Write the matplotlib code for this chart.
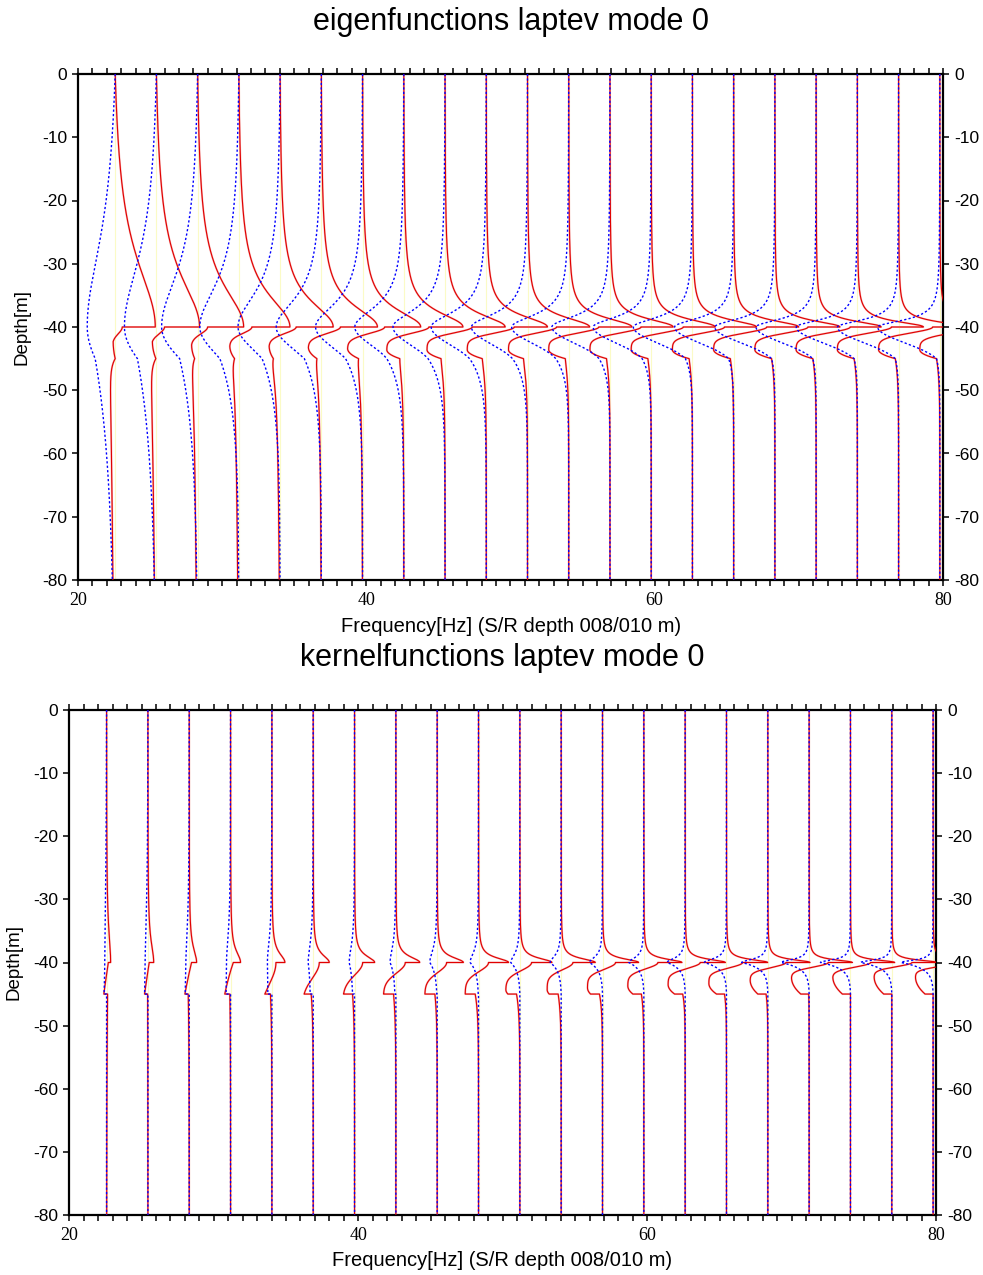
import numpy as np
import matplotlib
matplotlib.use("Agg")
import matplotlib.pyplot as plt
from matplotlib.ticker import MultipleLocator

plt.rcParams["axes.unicode_minus"] = False

# ---------------- data ----------------
freqs = [22.58, 25.44, 28.30, 31.16, 34.02, 36.88, 39.74, 42.60, 45.46, 48.32, 51.18,
         54.04, 56.90, 59.76, 62.62, 65.48, 68.34, 71.20, 74.06, 76.92, 79.78]
y_ticks = [0, -10, -20, -30, -40, -50, -60, -70, -80]
x_ticks = [20, 40, 60, 80]
water_depth = 40.0      # m, interface
layer_bottom = 45.0     # m, bottom of sediment layer
max_depth = 80.0

# --- eigenfunctions: red (solid) ---
eig_red_peak = [2.78, 2.99, 3.19, 3.54, 3.68, 3.89, 4.03, 4.10, 4.17, 4.24, 4.31,
                4.38, 4.38, 4.44, 4.44, 4.51, 4.51, 4.51, 4.58, 4.58, 4.58]
eig_red_width = [13.0, 10.0, 8.0, 6.3, 5.0, 4.1, 3.4, 2.9, 2.5, 2.2, 1.95,
                 1.78, 1.62, 1.5, 1.4, 1.3, 1.22, 1.15, 1.08, 1.02, 0.97]
eig_red_top = [0.49, 0.56, 0.69, 0.90, 1.11, 1.32, 1.53, 1.74, 1.88, 1.94, 2.01,
               2.08, 2.15, 2.22, 2.22, 2.29, 2.29, 2.36, 2.36, 2.36, 2.43]
eig_red_min = [-0.14, -0.28, -0.42, -0.63, -0.76, -0.90, -1.04, -1.18, -1.25, -1.32, -1.32,
               -1.39, -1.39, -1.39, -1.39, -1.39, -1.39, -1.39, -1.39, -1.39, -1.39]
eig_red_zmin = [2.3, 2.3, 2.8, 3.0, 3.0, 3.2, 3.4, 3.6, 3.6, 3.6, 3.6,
                3.6, 3.6, 3.6, 3.6, 3.6, 3.6, 3.6, 3.6, 3.6, 3.6]
eig_red_lam = [1.5, 1.5, 1.5, 1.4, 1.4, 1.4, 1.4, 1.37, 1.3, 1.3, 1.3,
               1.3, 1.3, 1.3, 1.3, 1.3, 1.3, 1.3, 1.3, 1.3, 1.3]
eig_red_pow = [2] * 21
eig_red_bot = [0.0, -0.04, -0.21, -0.30, -0.47, -0.31, -0.28, -0.28, -0.28, -0.28, -0.28,
               -0.24, -0.24, -0.23, -0.23, -0.23, -0.23, -0.23, -0.23, -0.23, -0.23]
eig_red_hdecay = [3.0] * 21
eig_red_tail = [-0.38, -0.39, -0.35, -0.35, -0.35, -0.24, -0.21, -0.14, -0.10, -0.08, -0.07,
                -0.06, -0.04, -0.03, -0.03, -0.02, -0.01, -0.01, 0.0, 0.0, 0.0]
eig_red_taildecay = [40, 35, 30, 25, 20, 15, 12, 8, 6, 5, 5, 4, 4, 4, 4, 3, 3, 3, 3, 3, 3]

# --- eigenfunctions: blue (dotted) ---
eig_blue_peak = [-1.94, -2.22, -2.50, -2.71, -2.92, -3.13, -3.26, -3.40, -3.61, -3.82, -3.89,
                 -3.96, -4.03, -4.03, -4.10, -4.10, -4.17, -4.17, -4.24, -4.24, -4.31]
eig_blue_width = [17.5, 13.5, 10.8, 8.5, 6.8, 5.5, 4.6, 3.9, 3.4, 3.0, 2.6,
                  2.4, 2.2, 2.0, 1.9, 1.75, 1.65, 1.55, 1.46, 1.38, 1.31]
eig_blue_bot = [-1.39, -1.32, -1.25, -1.32, -1.25, -1.18, -1.18, -1.18, -1.18, -1.16, -1.04,
                -0.90, -0.76, -0.63, -0.49, -0.35, -0.23, -0.23, -0.23, -0.23, -0.23]
eig_blue_lam = [10, 10, 8, 6, 5, 5, 4.5, 4, 4, 4, 3.8, 3.6, 3.5, 3.5, 3.5, 3.5, 3.5, 3.5, 3.5, 3.5, 3.5]
eig_blue_hdecay = [18, 16, 12, 8, 7, 6, 5, 4.5, 4, 3.7, 3.3, 3, 2.8, 2.6, 2.4, 2.2, 2, 2, 2, 2, 2]

# --- kernel functions: red (solid) ---
ker_red_peak = [0.28, 0.40, 0.51, 0.69, 0.90, 1.11, 1.39, 1.65, 1.81, 2.08, 2.22,
                2.36, 2.50, 2.64, 2.78, 2.85, 2.92, 2.99, 3.06, 3.13, 3.19]
ker_red_width = [6.0, 3.9, 2.8, 2.2, 1.8, 1.5, 1.3, 1.15, 1.03, 0.93, 0.85,
                 0.78, 0.72, 0.67, 0.63, 0.59, 0.56, 0.53, 0.50, 0.48, 0.46]
ker_red_top = [0.12, 0.09, 0.16, 0.19, 0.28, 0.42, 0.56, 0.65, 0.65, 0.69, 0.81,
               0.81, 0.90, 0.97, 1.04, 1.11, 1.25, 1.32, 1.39, 1.39, 1.39]
ker_red_min = [-0.19, -0.23, -0.30, -0.40, -0.49, -0.63, -0.76, -0.85, -0.85, -0.92, -0.97,
               -0.97, -1.04, -1.11, -1.18, -1.22, -1.22, -1.22, -1.22, -1.22, -1.22]
ker_red_zmin = [5, 5, 5, 5, 5, 5, 5, 5, 5, 4.9, 4.3, 4.3, 4.0, 3.7, 3.5, 3.3, 2.8, 2.4, 2.3, 2.3, 2.3]
ker_red_lam = [50, 50, 20, 10, 5, 3.5, 2.8, 2.35, 2.2, 2.0, 1.8,
               1.6, 1.5, 1.4, 1.3, 1.2, 1.1, 1.0, 1.0, 0.9, 0.9]
ker_red_pow = [1, 1, 1, 1, 2, 2, 2, 2, 2, 2, 2, 2, 2, 2, 2, 2, 2, 2, 2, 2, 2]
ker_red_sed = [-0.19, -0.23, -0.30, -0.40, -0.49, -0.63, -0.76, -0.85, -0.85, -0.92, -0.83,
               -0.83, -0.83, -0.76, -0.73, -0.69, -0.69, -0.58, -0.56, -0.56, -0.56]
ker_red_bot = [0.07, -0.02, -0.07, -0.05, -0.10, -0.14, -0.14, -0.16, -0.16, -0.23, -0.23,
               -0.21, -0.21, -0.17, -0.17, -0.14, -0.12, -0.03, 0.0, 0.0, 0.0]
ker_red_hdecay = [15, 10, 8, 6, 5, 4, 4, 4, 3.5, 3, 3, 3, 2.5, 2.5, 2, 2, 2, 2, 2, 2, 2]

# --- kernel functions: blue (dotted) ---
ker_blue_peak = [-0.12, -0.19, -0.23, -0.28, -0.31, -0.35, -0.37, -0.40, -0.51, -0.58, -0.63,
                 -0.76, -0.90, -1.04, -1.25, -1.53, -1.81, -1.94, -2.08, -2.15, -2.22]
ker_blue_width = [15, 10, 7, 5.5, 4.5, 3.8, 3.3, 3.0, 2.5, 2.0, 1.6,
                  1.3, 1.1, 0.95, 0.85, 0.75, 0.65, 0.6, 0.55, 0.5, 0.48]
ker_blue_sed = [-0.17, -0.23, -0.28, -0.31, -0.28, -0.21, -0.14, -0.07, -0.03, -0.02, 0.0,
                0.0, 0.0, 0.0, 0.0, 0.0, 0.0, 0.0, 0.0, 0.0, 0.0]
ker_blue_lam = [50, 50, 30, 10, 5, 3, 2.5, 2, 1.8, 1.6, 1.5, 1.4, 1.3, 1.2, 1.1, 1.05, 1.0, 1.0, 1.0, 1.0, 1.0]


# ---------------- curve construction ----------------
z_up = np.linspace(0.0, water_depth, 500)
z_sed = np.linspace(water_depth, layer_bottom, 250)
z_half = np.linspace(layer_bottom, max_depth, 400)
Z = np.concatenate([z_up, z_sed, z_half])


def profile(P, a, S0, Smin, zm, lam, p, S5, H, Lh, T=0.0, Lt=1.0):
    d = water_depth - z_up
    L = 1.0 / (1.0 + (d / a) ** 2)
    L0 = 1.0 / (1.0 + (water_depth / a) ** 2)
    up = P * (L - L0) / (1.0 - L0)

    s = z_sed - water_depth
    E = lambda v: np.exp(-(v / lam) ** p)
    G = (E(s) - E(zm)) / (1.0 - E(zm))
    sed = Smin + (S0 - Smin) * G
    if zm < layer_bottom - water_depth:
        right = s > zm
        span = (layer_bottom - water_depth) - zm
        sed[right] = Smin + (S5 - Smin) * ((s[right] - zm) / span) ** 2

    sp = z_half - layer_bottom
    half = H * np.exp(-sp / Lh) + T * (1 - np.exp(-sp / 1.5)) * np.exp(-sp / Lt)
    return np.concatenate([up, sed, half])


def style_axes(ax):
    ax.set_xlim(20, 80)
    ax.set_ylim(-80, 0)
    ax.set_xticks(x_ticks)
    ax.xaxis.set_minor_locator(MultipleLocator(1))
    ax.set_yticks(y_ticks)
    ax.set_yticklabels([str(v) for v in y_ticks])
    for sp in ax.spines.values():
        sp.set_linewidth(1.6)
    ax.tick_params(axis="x", which="both", direction="out", length=4.5, width=1.1,
                   top=True, bottom=True, labeltop=False, pad=4,
                   labelsize=13, labelfontfamily="Liberation Serif")
    ax.tick_params(axis="y", which="both", direction="out", length=4.0, width=1.1,
                   left=True, right=True, labelleft=True, labelright=True, pad=4,
                   labelsize=12.5, labelfontfamily="Liberation Sans")


RED = "#e00000"
PINK = "#f6b8b8"
BLUE = "#0000ff"
YEL = "#fbfbc6"

fig = plt.figure(figsize=(9.83, 12.75), dpi=100)
ax1 = fig.add_axes([78 / 983, 1 - 580 / 1275, 865 / 983, 506 / 1275])
ax2 = fig.add_axes([69.3 / 983, 1 - 1215 / 1275, 867 / 983, 505 / 1275])

for ax in (ax1, ax2):
    for f in freqs:
        ax.axvline(f, color=YEL, lw=0.8, zorder=1)

# top panel: eigenfunctions
for i, f in enumerate(freqs):
    xr = profile(eig_red_peak[i], eig_red_width[i], eig_red_top[i], eig_red_min[i],
                 eig_red_zmin[i], eig_red_lam[i], eig_red_pow[i], eig_red_bot[i],
                 eig_red_bot[i], eig_red_hdecay[i], eig_red_tail[i], eig_red_taildecay[i])
    ax1.plot(f + xr, -Z, color=PINK, lw=1.4, zorder=2)
    ax1.plot(f + xr, -Z, color=RED, lw=0.8, zorder=3)
for i, f in enumerate(freqs):
    xb = profile(eig_blue_peak[i], eig_blue_width[i], eig_blue_peak[i], eig_blue_bot[i],
                 5.0, eig_blue_lam[i], 2, eig_blue_bot[i], eig_blue_bot[i], eig_blue_hdecay[i])
    ax1.plot(f + xb, -Z, color=BLUE, lw=1.0, ls=(0, (1.6, 1.6)), zorder=4)

# bottom panel: kernel functions
for i, f in enumerate(freqs):
    xr = profile(ker_red_peak[i], ker_red_width[i], ker_red_top[i], ker_red_min[i],
                 ker_red_zmin[i], ker_red_lam[i], ker_red_pow[i], ker_red_sed[i],
                 ker_red_bot[i], ker_red_hdecay[i])
    ax2.plot(f + xr, -Z, color=PINK, lw=1.4, zorder=2)
    ax2.plot(f + xr, -Z, color=RED, lw=0.8, zorder=3)
for i, f in enumerate(freqs):
    xb = profile(ker_blue_peak[i], ker_blue_width[i], ker_blue_peak[i], ker_blue_sed[i],
                 5.0, ker_blue_lam[i], 1, ker_blue_sed[i], 0.0, 1.0)
    ax2.plot(f + xb, -Z, color=BLUE, lw=1.0, ls=(0, (1.6, 1.6)), zorder=4)

style_axes(ax1)
style_axes(ax2)

sans = "Liberation Sans"
fig.text(511 / 983, 1 - 22 / 1275, "eigenfunctions laptev mode 0", ha="center", va="center",
         fontsize=22, family=sans)
fig.text(511 / 983, 1 - 626 / 1275, "Frequency[Hz] (S/R depth 008/010 m)", ha="center",
         va="center", fontsize=14.5, family=sans)
fig.text(22 / 983, 1 - 327 / 1275, "Depth[m]", ha="center", va="center", rotation=90,
         fontsize=13.5, family=sans)

fig.text(502 / 983, 1 - 658 / 1275, "kernelfunctions laptev mode 0", ha="center", va="center",
         fontsize=22, family=sans)
fig.text(502 / 983, 1 - 1261 / 1275, "Frequency[Hz] (S/R depth 008/010 m)", ha="center",
         va="center", fontsize=14.5, family=sans)
fig.text(14 / 983, 1 - 962 / 1275, "Depth[m]", ha="center", va="center", rotation=90,
         fontsize=13.5, family=sans)

fig.savefig("out.png", dpi=100)
